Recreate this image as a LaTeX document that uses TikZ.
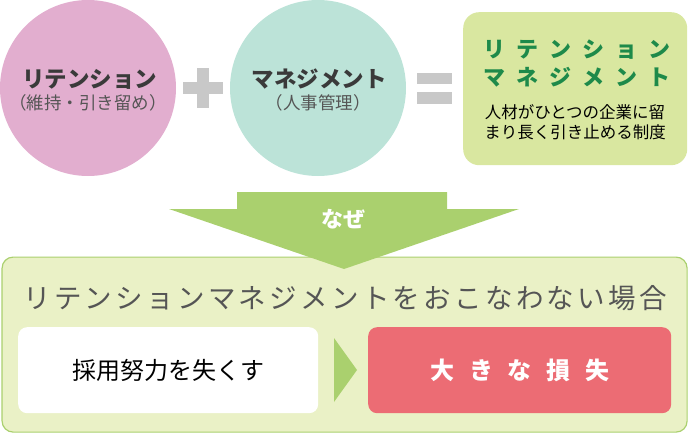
\documentclass[tikz,border=0pt]{standalone}
\usepackage{fontspec}
\setmainfont{Noto Sans CJK JP}
\definecolor{pinkc}{HTML}{E2AECF}
\definecolor{tealc}{HTML}{BCE3D8}
\definecolor{lightg}{HTML}{D9E7A0}
\definecolor{arrowg}{HTML}{AAD06E}
\definecolor{paleg}{HTML}{EAF1C6}
\definecolor{redc}{HTML}{EC6C74}
\definecolor{signc}{HTML}{C8C8C8}
\definecolor{titleg}{HTML}{1E8A4A}
\definecolor{darktx}{HTML}{3A3A3A}
\definecolor{graytx}{HTML}{555555}
\tikzset{
  circ/.style={circle, minimum size=176pt, inner sep=0pt},
  box/.style={rounded corners=#1, inner sep=0pt, anchor=north west},
  sign/.style={fill=signc, draw=none},
}
\begin{document}
\begin{tikzpicture}[x=1pt, y=-1pt]
    \useasboundingbox (0,0) rectangle (688,433);
    % circles
    \node[circ, fill=pinkc] (ret) at (88,88) {};
    \node[circ, fill=tealc] (man) at (318,88) {};
    \node[text=darktx, font=\fontsize{22.5}{24}\selectfont\bfseries] (rett) at (90,79) {リテンション};
    \node[text=graytx, font=\fontsize{17.5}{18}\selectfont] (rets) at (88,103) {（維持・引き留め）};
    \node[text=darktx, font=\fontsize{22.5}{24}\selectfont\bfseries] (mant) at (319,79) {マネジメント};
    \node[text=graytx, font=\fontsize{17.5}{18}\selectfont] (mans) at (318,103) {（人事管理）};
    % plus and equals
    \fill[sign] (183,82.5) rectangle (223,94);
    \fill[sign] (197,68) rectangle (209,108);
    \fill[sign] (417,73) rectangle (452,84);
    \fill[sign] (417,92.5) rectangle (452,104);
    % result box
    \node[box=16pt, fill=lightg, minimum width=224pt, minimum height=153pt] (res) at (463,12) {};
    \node[text=titleg, font=\fontsize{22}{24}\selectfont\bfseries\addfontfeature{LetterSpace=50}] (rm1) at (577,50) {リテンション};
    \node[text=titleg, font=\fontsize{22}{24}\selectfont\bfseries\addfontfeature{LetterSpace=50}] (rm2) at (577,77) {マネジメント};
    \node[text=black, font=\fontsize{16.5}{20}\selectfont, align=center] (def) at (575,122) {人材がひとつの企業に留\\まり長く引き止める制度};
    % bottom box
    \node[box=11pt, draw=arrowg, line width=1.2pt, fill=paleg, minimum width=685pt, minimum height=175pt] (case) at (1.5,256.5) {};
    % arrow
    \fill[arrowg] (237,192) -- (447,192) -- (447,209) -- (519,209) -- (344,269)
      -- (169,209) -- (237,209) -- cycle;
    \node[text=white, font=\fontsize{22}{24}\selectfont\bfseries] (why) at (343,219) {なぜ};
    \node[text=graytx, font=\fontsize{27.5}{30}\selectfont\addfontfeature{LetterSpace=12}] (cap) at (345,298) {リテンションマネジメントをおこなわない場合};
    % effort and loss
    \node[box=9pt, fill=white, minimum width=300pt, minimum height=86pt] (eff) at (18,327) {};
    \node[text=black, font=\fontsize{24}{26}\selectfont] (efft) at (168,370) {採用努力を失くす};
    \fill[arrowg] (334,338) -- (357,370) -- (334,402) -- cycle;
    \node[box=9pt, fill=redc, minimum width=303pt, minimum height=86pt] (loss) at (368,327) {};
    \node[text=white, font=\fontsize{24}{26}\selectfont\bfseries\addfontfeature{LetterSpace=62}] (losst) at (520,370) {大きな損失};
\end{tikzpicture}
\end{document}
